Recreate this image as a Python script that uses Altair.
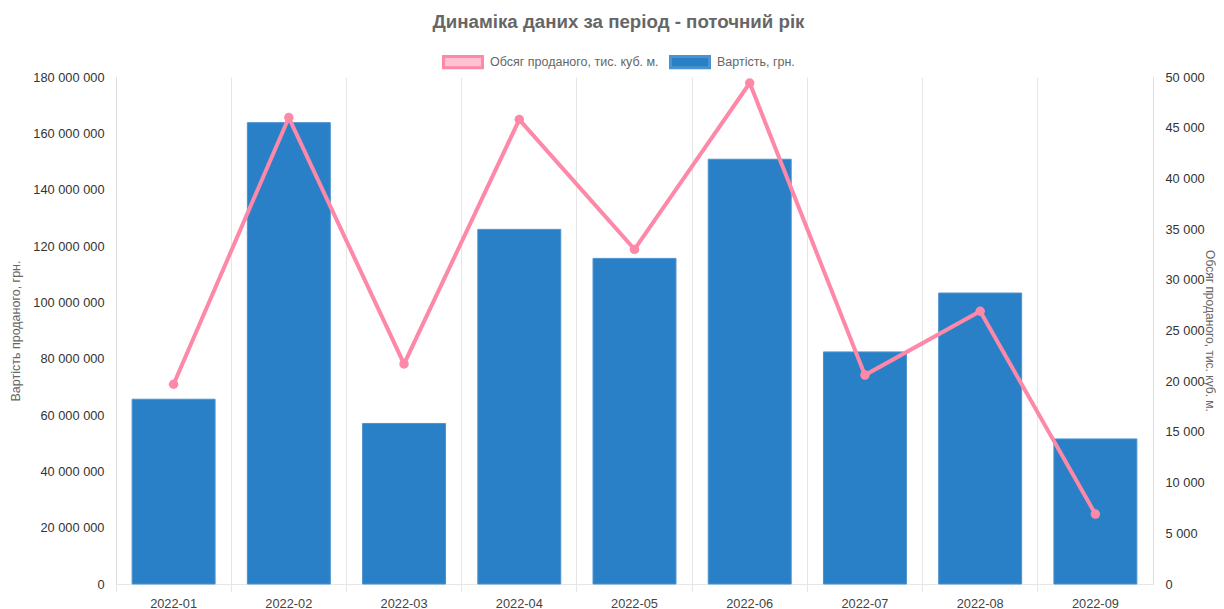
import altair as alt
import pandas as pd

months = ["2022-01", "2022-02", "2022-03", "2022-04", "2022-05",
          "2022-06", "2022-07", "2022-08", "2022-09"]
cost = [65600000, 163800000, 57000000, 125900000, 115600000,
        150800000, 82400000, 103300000, 51500000]
volume = [19700, 46000, 21700, 45800, 33000, 49400, 20600, 26900, 6900]

title_text = "Динаміка даних за період - поточний рік"
cost_label = "Вартість, грн."
vol_label = "Обсяг проданого, тис. куб. м."
left_title = "Вартість проданого, грн."
right_title = "Обсяг проданого, тис. куб. м."

df = pd.DataFrame({"month": months, "cost": cost, "volume": volume,
                   "series": [cost_label] * len(months)})

FONT = "Liberation Sans"
GRID = "#e6e6e6"
PINK = "#fd88a8"
BLUE = "#2a80c6"

x_scale = alt.Scale(domain=months, paddingInner=0, paddingOuter=0)

legend = alt.Legend(
    title=None, orient="none", legendX=326, legendY=-36, direction="horizontal",
    symbolType="M-1,-0.29L1,-0.29L1,0.29L-1,0.29Z", symbolSize=1521,
    symbolStrokeWidth=3, labelFont=FONT, labelFontSize=12.5, labelColor="#666",
    columnPadding=5, labelOffset=6, labelLimit=400,
)

bars = alt.Chart(df).mark_bar(width=alt.RelativeBandSize(0.72), strokeWidth=1).encode(
    x=alt.X("month:N", scale=x_scale, sort=months,
            axis=alt.Axis(title=None, orient="bottom", labels=False, ticks=True,
                          tickSize=8, tickColor=GRID, grid=True, gridColor=GRID,
                          bandPosition=0, domainColor=GRID)),
    y=alt.Y("cost:Q", scale=alt.Scale(domain=[0, 180000000], nice=False),
            axis=alt.Axis(title=left_title, orient="left", format=",d",
                          values=list(range(0, 180000001, 20000000)),
                          grid=False, ticks=False, domainColor="#dddddd",
                          labelPadding=12, labelFont=FONT, labelFontSize=12.8,
                          labelColor="#333", titleFont=FONT, titleFontSize=12.5,
                          titleFontWeight="normal", titleColor="#666",
                          titlePadding=10)),
    fill=alt.Fill("series:N", scale=alt.Scale(domain=[vol_label, cost_label],
                                               range=["#ffc2d2", BLUE]),
                  legend=legend),
    stroke=alt.Stroke("series:N", scale=alt.Scale(domain=[vol_label, cost_label],
                                                   range=[PINK, "#4a93d0"]),
                      legend=legend),
)

line = alt.Chart(df).mark_line(
    color=PINK, strokeWidth=4,
    point=alt.OverlayMarkDef(filled=True, color=PINK, size=90, opacity=1),
).encode(
    x=alt.X("month:N", scale=x_scale, sort=months,
            axis=alt.Axis(title=None, orient="bottom", labels=True, ticks=False,
                          tickSize=0, domain=False, grid=False, labelPadding=13,
                          labelAngle=0, labelFont=FONT, labelFontSize=12.8,
                          labelColor="#444")),
    y=alt.Y("volume:Q", scale=alt.Scale(domain=[0, 50000], nice=False),
            axis=alt.Axis(title=right_title, orient="right", format=",d",
                          values=list(range(0, 50001, 5000)),
                          grid=False, ticks=False, domainColor="#dddddd",
                          labelPadding=12, labelFont=FONT, labelFontSize=12.8,
                          labelColor="#333", titleFont=FONT, titleFontSize=12,
                          titleFontWeight="normal", titleColor="#666",
                          titlePadding=-2)),
)

chart = alt.layer(bars, line).resolve_scale(
    y="independent"
).resolve_axis(
    x="independent", y="independent"
).properties(
    width=1037, height=507,
    autosize=alt.AutoSizeParams(type="none"),
    padding={"left": 108, "top": 69, "right": 63, "bottom": 25},
    title=alt.TitleParams(title_text, font=FONT, fontSize=18.7, fontWeight="bold",
                          color="#666", anchor="middle", dx=-16, offset=9),
).configure(
    locale={"number": {"decimal": ".", "thousands": " ", "grouping": [3],
                       "currency": ["", ""]}}
).configure_view(stroke=None)

chart.save("out.html", embed_options={"renderer": "svg", "actions": False})
